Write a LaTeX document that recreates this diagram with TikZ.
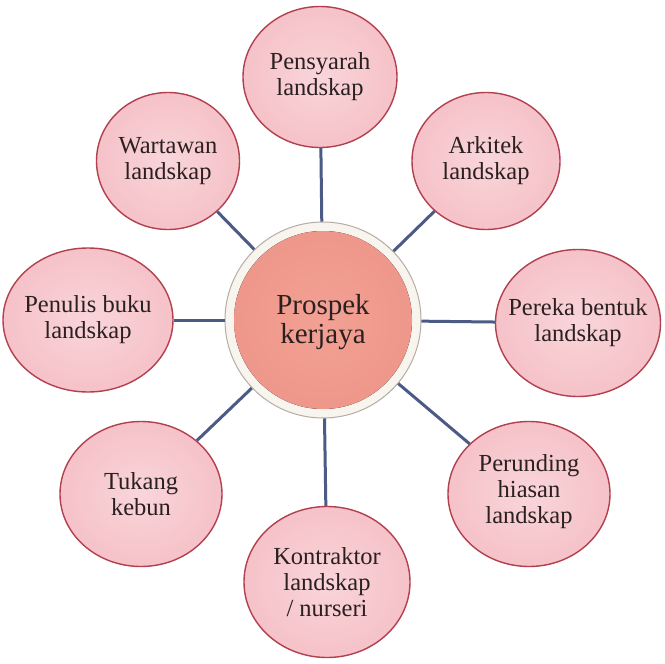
\documentclass[tikz,border=0pt]{standalone}
\usepackage{fontspec}
\setmainfont{Liberation Serif}
\usetikzlibrary{shapes.geometric}
\definecolor{satfill}{HTML}{F5C2C8}
\definecolor{satin}{HTML}{F9D5D9}
\definecolor{satedge}{HTML}{B2404F}
\definecolor{cenfill}{HTML}{EE978A}
\definecolor{cenin}{HTML}{F2A194}
\definecolor{rim}{HTML}{F8F4EE}
\definecolor{rimedge}{HTML}{B5ADA5}
\definecolor{link}{HTML}{4B5B86}
\definecolor{txt}{HTML}{2B2020}
\tikzset{
  sat/.style={ellipse, draw=satedge, line width=1.4pt, inner color=satin, outer color=satfill,
    inner sep=0pt},
  sattext/.style={align=center, text=txt, inner sep=0pt, font=\fontsize{24.5}{26}\selectfont},
  hub/.style={circle, draw=rimedge, line width=1pt, fill=rim, minimum size=196pt, inner sep=0pt},
  hubtext/.style={align=center, text=txt, inner sep=0pt, font=\fontsize{29}{28.5}\selectfont},
  linkline/.style={draw=link, line width=3pt}
}
\begin{document}
\begin{tikzpicture}[x=1pt,y=-1pt]
\useasboundingbox (0,0) rectangle (665,664);
\fill[white] (0,0) rectangle (665,664);
% hub
\node[hub] (c) at (323,320) {};
\fill[inner color=cenin, outer color=cenfill] (c.center) circle (89pt);
\node[hubtext] (ct) at (323,322) {Prospek\\kerjaya};
% satellites
\node[sat, minimum width=154pt, minimum height=141pt] (s1) at (320,77) {};
\node[sat, minimum width=148pt, minimum height=137pt] (s2) at (486,161) {};
\node[sat, minimum width=165pt, minimum height=147pt] (s3) at (578,323) {};
\node[sat, minimum width=162pt, minimum height=145pt] (s4) at (529,494) {};
\node[sat, minimum width=166pt, minimum height=151pt] (s5) at (327,582) {};
\node[sat, minimum width=162pt, minimum height=145pt] (s6) at (141,494) {};
\node[sat, minimum width=170pt, minimum height=144pt] (s7) at (88,320) {};
\node[sat, minimum width=143pt, minimum height=137pt] (s8) at (168,161) {};
\node[sattext] (t1) at (s1) {Pensyarah\\landskap};
\node[sattext] (t2) at (s2) {Arkitek\\landskap};
\node[sattext] (t3) at (s3) {Pereka bentuk\\landskap};
\node[sattext] (t4) at ([yshift=2pt]s4.center) {Perunding\\hiasan\\landskap};
\node[sattext] (t5) at (s5) {Kontraktor\\landskap\\/ nurseri};
\node[sattext] (t6) at (s6) {Tukang\\kebun};
\node[sattext] (t7) at (s7) {Penulis buku\\landskap};
\node[sattext] (t8) at (s8) {Wartawan\\landskap};
% connectors
\foreach \s in {s1,s2,s3,s4,s5,s6,s7,s8}{
  \draw[linkline] (c) -- (\s);
}
\end{tikzpicture}
\end{document}
